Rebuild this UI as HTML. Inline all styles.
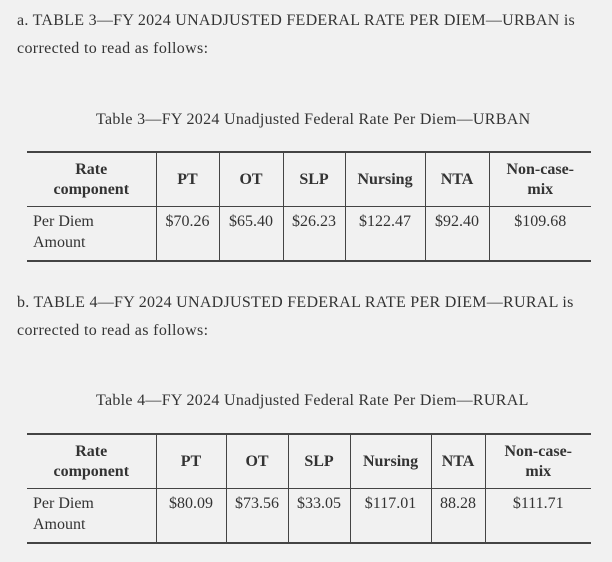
<!DOCTYPE html>
<html><head><meta charset="utf-8"><style>
body{margin:0;width:612px;height:562px;background:#f1f1f1;font-family:"Liberation Serif",serif;color:#333;position:relative;overflow:hidden}
.t{position:absolute;white-space:nowrap;font-size:16px}
table{position:absolute;border-collapse:collapse;table-layout:fixed;font-size:16px;color:#333}
td,th{border-left:1px solid #444;border-right:1px solid #444;padding:0 4px;text-align:center;vertical-align:top}
th{font-weight:bold;vertical-align:middle;line-height:20px;height:53px;border-bottom:1px solid #444}
tr:first-child th{border-top:2px solid #444}
td{height:49px;line-height:21px;padding-top:4px;border-bottom:2px solid #444}
th:first-child,td:first-child{border-left:none}
th:last-child,td:last-child{border-right:none}
td:first-child{text-align:left;padding-left:6px}
</style></head><body>
<div class="t" style="left:17px;top:12px;letter-spacing:0.28px">a. TABLE 3—FY 2024 UNADJUSTED FEDERAL RATE PER DIEM—URBAN is</div>
<div class="t" style="left:17px;top:40px;letter-spacing:0.35px">corrected to read as follows:</div>
<div class="t" style="left:96px;top:111px;letter-spacing:0.3px">Table 3—FY 2024 Unadjusted Federal Rate Per Diem—URBAN</div>
<table style="left:27px;top:151px;width:564px">
<colgroup><col style="width:129px"><col style="width:63px"><col style="width:64px"><col style="width:62px"><col style="width:80px"><col style="width:64px"><col style="width:102px"></colgroup>
<tr><th>Rate<br>component</th><th>PT</th><th>OT</th><th>SLP</th><th>Nursing</th><th>NTA</th><th>Non-case-<br>mix</th></tr>
<tr><td>Per Diem<br>Amount</td><td>$70.26</td><td>$65.40</td><td>$26.23</td><td>$122.47</td><td>$92.40</td><td>$109.68</td></tr>
</table>
<div class="t" style="left:17px;top:294px;letter-spacing:0.28px">b. TABLE 4—FY 2024 UNADJUSTED FEDERAL RATE PER DIEM—RURAL is</div>
<div class="t" style="left:17px;top:322px;letter-spacing:0.35px">corrected to read as follows:</div>
<div class="t" style="left:96px;top:392px;letter-spacing:0.3px">Table 4—FY 2024 Unadjusted Federal Rate Per Diem—RURAL</div>
<table style="left:27px;top:433px;width:564px">
<colgroup><col style="width:129px"><col style="width:70px"><col style="width:62px"><col style="width:62px"><col style="width:81px"><col style="width:54px"><col style="width:106px"></colgroup>
<tr><th>Rate<br>component</th><th>PT</th><th>OT</th><th>SLP</th><th>Nursing</th><th>NTA</th><th>Non-case-<br>mix</th></tr>
<tr><td>Per Diem<br>Amount</td><td>$80.09</td><td>$73.56</td><td>$33.05</td><td>$117.01</td><td>88.28</td><td>$111.71</td></tr>
</table>
</body></html>
